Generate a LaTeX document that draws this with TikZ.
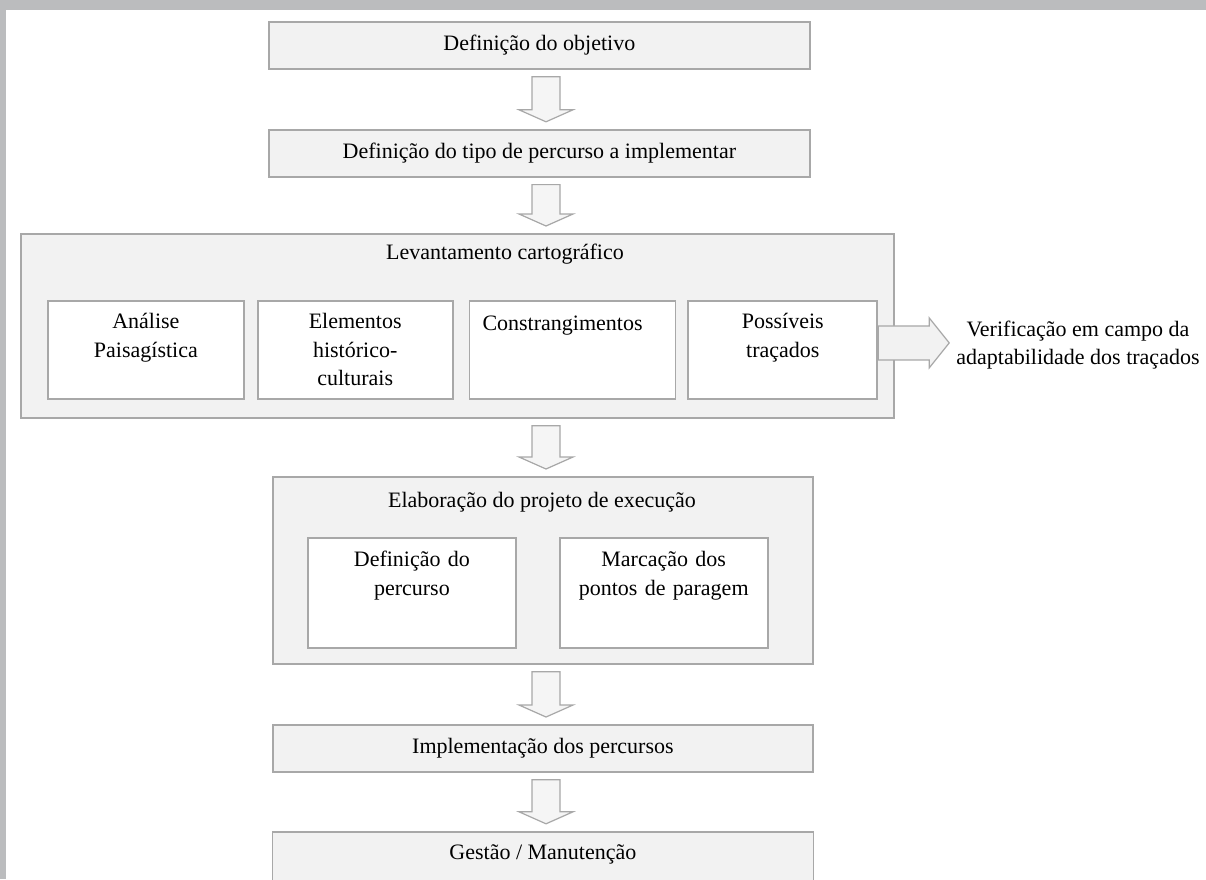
\documentclass[tikz,border=0pt]{standalone}
\usepackage{fontspec}
\setmainfont{Liberation Serif}
\usepackage{xcolor}
\usetikzlibrary{positioning, calc}

\definecolor{boxfill}{HTML}{F2F2F2}
\definecolor{boxline}{HTML}{A8A8A8}
\definecolor{arrowfill}{HTML}{F5F5F5}
\definecolor{framegray}{HTML}{BBBCBE}

\begin{document}
\begin{tikzpicture}[
    x=1pt, y=-1pt,
    font=\fontsize{22}{28.5}\selectfont,
    stage/.style={rectangle, draw=boxline, fill=boxfill, line width=1.8pt, inner sep=0pt,
        minimum width=541pt, minimum height=47pt, text height=15pt, text depth=5pt},
    group/.style={rectangle, draw=boxline, fill=boxfill, line width=1.8pt, inner sep=0pt},
    subbox/.style={rectangle, draw=boxline, fill=white, line width=1.8pt, inner sep=0pt, align=center},
    blockarrow/.style={draw=boxline, fill=arrowfill, line width=1.2pt, line join=miter}
]
    \useasboundingbox (0,0) rectangle (1206,879);
    \fill[white] (0,0) rectangle (1206,879);
    \fill[framegray] (0,0) rectangle (1206,10);
    \fill[framegray] (0,0) rectangle (6,879);

    \coordinate (spine) at (546,0);

    % main stages
    \node[stage, anchor=north west] (obj) at (268,21) {Definição do objetivo};
    \node[stage, below=59pt of obj] (tipo) {Definição do tipo de percurso a implementar};

    \node[group, anchor=north west, minimum width=873pt, minimum height=184pt] (lev) at (20,233) {};
    \node[anchor=base] (levtitle) at (505,259) {Levantamento cartográfico};
    \node[subbox, anchor=north west, text width=196pt, text height=28pt, text depth=70pt] (analise) at (47,300) {Análise\\Paisagística};
    \node[subbox, right=12pt of analise, text width=195pt, text height=28pt, text depth=70pt] (elementos) {Elementos\\histórico-\\culturais};
    \node[subbox, right=15pt of elementos, align=left, text width=206pt, text height=30pt, text depth=68pt] (constr) {\hspace*{13pt}Constrangimentos};
    \node[subbox, right=11pt of constr, text width=189pt, text height=28pt, text depth=70pt] (possiveis) {Possíveis\\traçados};

    \node[group, anchor=north west, minimum width=540pt, minimum height=187pt] (elab) at (272,476) {};
    \node[anchor=base] (elabtitle) at (542,507) {Elaboração do projeto de execução};
    \node[subbox, anchor=north west, text width=208pt, text height=29pt, text depth=81pt] (defperc) at (307,537) {Definição do\\percurso};
    \node[subbox, right=42pt of defperc, text width=208pt, text height=29pt, text depth=81pt] (marcacao) {Marcação dos\\pontos de paragem};

    \node[stage, anchor=north west, minimum width=540pt] (impl) at (272,724) {Implementação dos percursos};
    \node[stage, below=58pt of impl, text height=28pt, text depth=42pt] (gestao) {Gestão / Manutenção};

    % side check
    \node[right=78pt of possiveis, yshift=5pt, inner sep=0pt, align=center] (verif) {Verificação em campo da\\adaptabilidade dos traçados};

    % block arrows down the chain
    \foreach \a/\b in {obj/tipo, tipo/lev, lev/elab, elab/impl, impl/gestao} {
        \filldraw[blockarrow] ($(\a.south -| spine)+(-14,7)$) -- ($(\a.south -| spine)+(14,7)$)
            -- ($(\b.north -| spine)+(14,-19)$) -- ($(\b.north -| spine)+(27,-19)$)
            -- ($(\b.north -| spine)+(0,-7)$) -- ($(\b.north -| spine)+(-27,-19)$)
            -- ($(\b.north -| spine)+(-14,-19)$) -- cycle;
    }

    \coordinate (sidestart) at ($(possiveis.east)+(0,-7)$);
    \coordinate (sidetip) at ($(sidestart -| verif.west)+(-7,0)$);
    \filldraw[blockarrow, fill=boxfill] ($(sidestart)+(0,-17)$) -- ($(sidetip)+(-20,-17)$)
        -- ($(sidetip)+(-20,-25)$) -- (sidetip) -- ($(sidetip)+(-20,25)$)
        -- ($(sidetip)+(-20,17)$) -- ($(sidestart)+(0,17)$) -- cycle;
\end{tikzpicture}
\end{document}
